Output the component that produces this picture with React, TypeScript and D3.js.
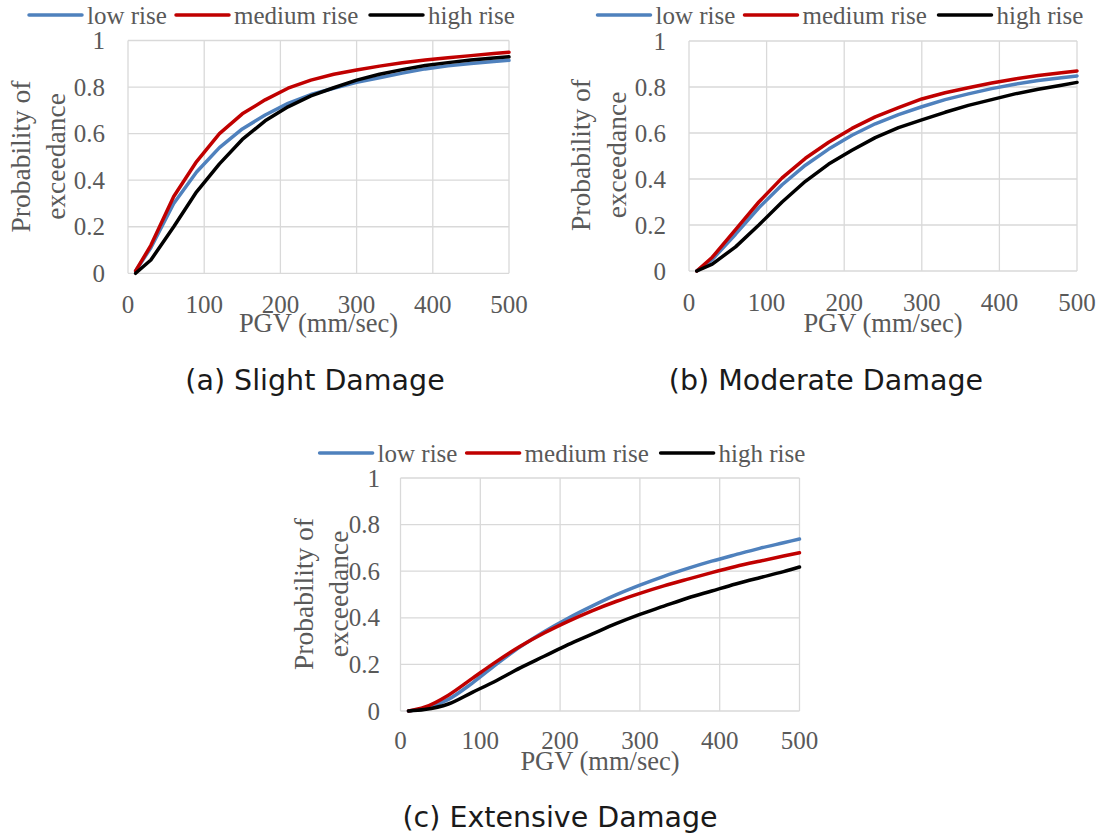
import React from "react";
import * as d3 from "d3";

// PGV sample points (mm/sec)
const PGV = [10, 30, 60, 90, 120, 150, 180, 210, 240, 270, 300, 330, 360, 390, 420, 450, 480, 500];

const SERIES_NAMES = ["low rise", "medium rise", "high rise"];
const SERIES_COLORS = ["#4F81BD", "#C00000", "#000000"];

// (a) Slight damage
const SLIGHT_LOW = [0.01, 0.11, 0.3, 0.435, 0.54, 0.62, 0.68, 0.73, 0.768, 0.795, 0.82, 0.84, 0.86, 0.878, 0.891, 0.901, 0.91, 0.915];
const SLIGHT_MEDIUM = [0.01, 0.12, 0.33, 0.48, 0.6, 0.685, 0.745, 0.795, 0.83, 0.855, 0.873, 0.89, 0.904, 0.916, 0.926, 0.935, 0.944, 0.95];
const SLIGHT_HIGH = [0.0, 0.057, 0.2, 0.35, 0.47, 0.575, 0.655, 0.715, 0.762, 0.797, 0.83, 0.855, 0.875, 0.893, 0.905, 0.916, 0.925, 0.93];

// (b) Moderate damage
const MODERATE_LOW = [0.0, 0.05, 0.16, 0.275, 0.375, 0.46, 0.53, 0.59, 0.64, 0.68, 0.714, 0.745, 0.77, 0.793, 0.812, 0.828, 0.84, 0.848];
const MODERATE_MEDIUM = [0.0, 0.06, 0.18, 0.3, 0.405, 0.49, 0.56, 0.62, 0.67, 0.71, 0.748, 0.775, 0.797, 0.817, 0.835, 0.85, 0.862, 0.87];
const MODERATE_HIGH = [0.0, 0.03, 0.105, 0.2, 0.3, 0.39, 0.465, 0.525, 0.58, 0.623, 0.657, 0.69, 0.72, 0.745, 0.77, 0.79, 0.808, 0.82];

// (c) Extensive damage
const EXTENSIVE_LOW = [0.0, 0.01, 0.05, 0.12, 0.2, 0.275, 0.34, 0.398, 0.45, 0.498, 0.54, 0.578, 0.612, 0.643, 0.671, 0.698, 0.722, 0.738];
const EXTENSIVE_MEDIUM = [0.0, 0.016, 0.068, 0.14, 0.212, 0.278, 0.335, 0.385, 0.43, 0.47, 0.505, 0.537, 0.566, 0.594, 0.62, 0.643, 0.665, 0.679];
const EXTENSIVE_HIGH = [0.0, 0.006, 0.03, 0.08, 0.13, 0.185, 0.235, 0.285, 0.33, 0.375, 0.415, 0.45, 0.485, 0.515, 0.545, 0.572, 0.598, 0.618];

const X_TICKS = [0, 100, 200, 300, 400, 500];
const Y_TICKS = [0, 0.2, 0.4, 0.6, 0.8, 1];
const Y_TICK_LABELS = ["0", "0.2", "0.4", "0.6", "0.8", "1"];

const X_TITLE = "PGV (mm/sec)";
const Y_TITLE_1 = "Probability of";
const Y_TITLE_2 = "exceedance";

const CAPTIONS = ["(a) Slight Damage", "(b) Moderate Damage", "(c) Extensive Damage"];

const SERIF = "'Liberation Serif', 'Times New Roman', serif";
const SANS = "'DejaVu Sans', sans-serif";
const GRID = "#d9d9d9";
const TEXT = "#595959";

const PANELS = [
  {
    series: [SLIGHT_LOW, SLIGHT_MEDIUM, SLIGHT_HIGH],
    curve: d3.curveLinear,
    plot: { left: 128, right: 509, top: 40.5, bottom: 273.3 },
    legend: { x: 29, y: 15 },
    yTitle: { x1: 30, x2: 65, cy: 156.5 },
    xTickBaseline: 313,
    xTitleBaseline: 332,
    yLabelGap: 23,
    caption: { x: 315, y: 390 },
  },
  {
    series: [MODERATE_LOW, MODERATE_MEDIUM, MODERATE_HIGH],
    curve: d3.curveLinear,
    plot: { left: 689, right: 1077, top: 41, bottom: 271 },
    legend: { x: 597.5, y: 15 },
    yTitle: { x1: 590, x2: 626, cy: 155 },
    xTickBaseline: 311,
    xTitleBaseline: 332,
    yLabelGap: 23,
    caption: { x: 826, y: 390 },
  },
  {
    series: [EXTENSIVE_LOW, EXTENSIVE_MEDIUM, EXTENSIVE_HIGH],
    curve: d3.curveMonotoneX,
    plot: { left: 400.5, right: 799.5, top: 478, bottom: 711 },
    legend: { x: 319.6, y: 453 },
    yTitle: { x1: 313, x2: 348, cy: 594 },
    xTickBaseline: 749,
    xTitleBaseline: 770,
    yLabelGap: 20.6,
    caption: { x: 560, y: 827 },
  },
];

const LEGEND_OFFSETS = [0, 147, 341];

function Panel({ cfg, caption }: { cfg: any; caption: string }) {
  const { plot } = cfg;
  const x = d3.scaleLinear().domain([0, 500]).range([plot.left, plot.right]);
  const y = d3.scaleLinear().domain([0, 1]).range([plot.bottom, plot.top]);
  const line = d3
    .line<number>()
    .x((_, i) => x(PGV[i]))
    .y((d) => y(d))
    .curve(cfg.curve);

  return (
    <g>
      {X_TICKS.map((t) => (
        <line key={"gx" + t} x1={x(t)} x2={x(t)} y1={plot.top} y2={plot.bottom} stroke={GRID} strokeWidth={1.3} />
      ))}
      {Y_TICKS.map((t) => (
        <line key={"gy" + t} x1={plot.left} x2={plot.right} y1={y(t)} y2={y(t)} stroke={GRID} strokeWidth={1.3} />
      ))}
      {X_TICKS.map((t) => (
        <text key={"tx" + t} x={x(t)} y={cfg.xTickBaseline} textAnchor="middle" fontFamily={SERIF} fontSize={25} fill={TEXT}>
          {t}
        </text>
      ))}
      {Y_TICKS.map((t, i) => (
        <text key={"ty" + t} x={plot.left - cfg.yLabelGap} y={y(t) + 8.5} textAnchor="end" fontFamily={SERIF} fontSize={25} fill={TEXT}>
          {Y_TICK_LABELS[i]}
        </text>
      ))}
      <text x={(plot.left + plot.right) / 2} y={cfg.xTitleBaseline} textAnchor="middle" fontFamily={SERIF} fontSize={26.5} fill={TEXT}>
        {X_TITLE}
      </text>
      <text transform={`translate(${cfg.yTitle.x1},${cfg.yTitle.cy}) rotate(-90)`} textAnchor="middle" fontFamily={SERIF} fontSize={27.5} fill={TEXT}>
        {Y_TITLE_1}
      </text>
      <text transform={`translate(${cfg.yTitle.x2},${cfg.yTitle.cy}) rotate(-90)`} textAnchor="middle" fontFamily={SERIF} fontSize={27.5} fill={TEXT}>
        {Y_TITLE_2}
      </text>
      {cfg.series.map((s: number[], i: number) => (
        <path key={"s" + i} d={line(s) || ""} fill="none" stroke={SERIES_COLORS[i]} strokeWidth={3.5} strokeLinejoin="round" strokeLinecap="round" />
      ))}
      {SERIES_NAMES.map((name, i) => {
        const lx = cfg.legend.x + LEGEND_OFFSETS[i];
        return (
          <g key={"lg" + i}>
            <line x1={lx} x2={lx + 53} y1={cfg.legend.y} y2={cfg.legend.y} stroke={SERIES_COLORS[i]} strokeWidth={3.5} strokeLinecap="round" />
            <text x={lx + 58} y={cfg.legend.y + 9} fontFamily={SERIF} fontSize={25} fill={TEXT}>
              {name}
            </text>
          </g>
        );
      })}
      <text x={cfg.caption.x} y={cfg.caption.y} textAnchor="middle" fontFamily={SANS} fontSize={28.5} fill="#1a1a1a">
        {caption}
      </text>
    </g>
  );
}

export default function App() {
  return (
    <svg
      width={1104}
      height={838}
      viewBox="0 0 1104 838"
      style={{ position: "absolute", left: 0, top: 0, background: "#ffffff" }}
    >
      <rect x={0} y={0} width={1104} height={838} fill="#ffffff" />
      {PANELS.map((p, i) => (
        <Panel key={i} cfg={p} caption={CAPTIONS[i]} />
      ))}
    </svg>
  );
}
